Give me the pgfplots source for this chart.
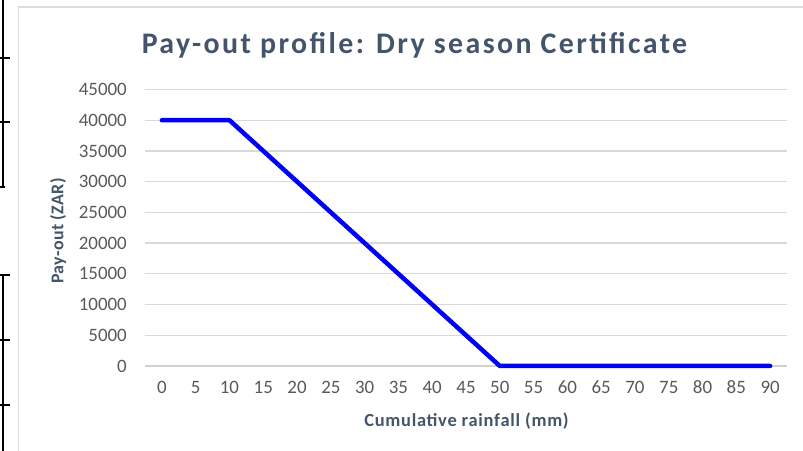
\documentclass[border=0pt]{standalone}
\usepackage{fontspec}
\setmainfont{Carlito}
\usepackage{pgfplots}
\pgfplotsset{compat=1.18}
\definecolor{titlec}{HTML}{44546A}
\definecolor{tickc}{HTML}{595959}
\definecolor{gridc}{HTML}{D9D9D9}
\definecolor{axisc}{HTML}{CFCFCF}
\definecolor{framec}{HTML}{DCDCDC}
\begin{document}
\begin{tikzpicture}[x=1bp,y=1bp]
\begin{axis}[
  at={(161.9bp,85bp)}, anchor=origin, scale only axis,
  width=642bp, height=276.5bp,
  xmin=-2.5, xmax=92.5, ymin=0, ymax=45000,
  clip=false,
  axis x line*=bottom, axis y line*=left,
  x axis line style={draw=axisc, line width=1.3bp},
  y axis line style={draw=none},
  xtick={0,5,...,90},
  minor xtick={-2.5,2.5,...,92.5},
  ytick={0,5000,...,45000},
  scaled y ticks=false,
  major tick length=0pt,
  minor tick length=6bp,
  tick align=outside,
  every minor tick/.append style={draw=axisc, line width=1.3bp},
  ytick style={draw=none},
  xtick style={draw=none},
  ymajorgrids,
  grid style={draw=gridc, line width=1.3bp},
  /pgf/number format/assume math mode=true,
  /pgf/number format/set thousands separator={},
  /pgf/number format/fixed,
  xticklabel style={font=\fontsize{19}{19}\selectfont, text=tickc, anchor=base, inner sep=0pt, yshift=-28bp},
  yticklabel style={font=\fontsize{19}{19}\selectfont, text=tickc, anchor=east, inner sep=0pt, xshift=-18bp},
  xlabel={Cumulative rainfall (mm)},
  ylabel={Pay-out (ZAR)},
  xlabel style={font=\bfseries\fontsize{18.5}{18.5}\addfontfeature{LetterSpace=4}\selectfont, text=titlec, at={(axis description cs:0.5008,-0.199)}, anchor=center},
  ylabel style={font=\bfseries\fontsize{18}{18}\addfontfeature{LetterSpace=2}\selectfont, text=titlec, at={(axis description cs:-0.1355,0.488)}, anchor=center},
]
\addplot[color={rgb,255:red,0;green,0;blue,245}, line width=4.5bp, line cap=round, line join=round] coordinates {
(0,40000) (5,40000) (10,40000) (15,35000) (20,30000) (25,25000) (30,20000)
(35,15000) (40,10000) (45,5000) (50,0) (55,0) (60,0) (65,0) (70,0) (75,0)
(80,0) (85,0) (90,0)
};
\end{axis}
\pgfresetboundingbox
\useasboundingbox (0,0) rectangle (803,451);
\draw[framec, line width=1.8bp] (18.5,0) -- (18.5,444) -- (803,444);
\begin{scope}[black, line width=2bp]
\draw (3,451) -- (3,264);
\draw (0,393) -- (10,393);
\draw (0,329) -- (10,329);
\draw (0,264) -- (5,264);
\draw (3,176) -- (3,0);
\draw (0,176) -- (10,176);
\draw (0,111) -- (10,111);
\draw (0,46) -- (10,46);
\end{scope}
\node[font=\bfseries\fontsize{30}{30}\addfontfeature{LetterSpace=8}\selectfont, text=titlec] at (414.5,406) {Pay-out profile: Dry season Certificate};
\end{tikzpicture}
\end{document}
